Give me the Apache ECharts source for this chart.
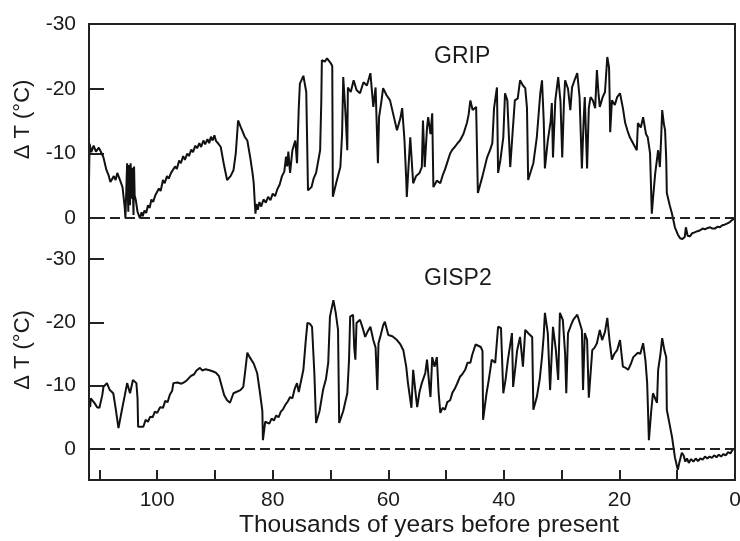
<!DOCTYPE html>
<html>
<head>
<meta charset="utf-8">
<script src="https://cdn.jsdelivr.net/npm/echarts@6/dist/echarts.min.js"></script>
<style>html,body{margin:0;padding:0;background:#fff}#c{width:740px;height:541px}</style>
</head>
<body>
<div id="c"></div>
<script>
// ---- data (kyr before present, ΔT °C) ----
var gripAge = [
111.8,111.7,111.4,111.0,110.6,110.1,109.6,109.3,108.8,108.4,
108.1,107.5,107.2,106.9,106.4,106.0,105.6,105.5,105.3,105.2,
105.0,104.9,104.7,104.6,104.4,104.3,104.1,104.0,103.9,103.7,
103.4,103.0,102.7,102.5,102.2,101.9,101.6,101.3,101.0,100.7,
100.3,100.0,99.7,99.4,99.0,98.7,98.3,98.0,97.6,97.3,
96.9,96.6,96.2,95.9,95.5,95.2,94.8,94.5,94.1,93.8,
93.4,93.1,92.7,92.4,92.0,91.7,91.3,91.0,90.7,90.4,
90.1,89.8,89.4,89.0,88.5,87.9,87.3,86.8,86.4,86.0,
85.5,84.8,84.4,83.9,83.5,83.3,83.0,82.8,82.6,82.3,
82.0,81.6,81.2,80.8,80.4,80.0,79.6,79.2,78.8,78.4,
78.0,77.7,77.5,77.3,77.0,76.6,76.1,75.8,75.5,75.3,
74.7,74.2,74.0,73.9,73.3,72.9,72.5,72.1,71.8,71.6,
71.5,71.0,70.6,70.0,69.7,69.6,69.0,68.3,68.0,67.8,
67.4,67.1,67.0,66.5,66.0,65.5,64.9,64.3,63.7,63.1,
62.6,62.2,61.9,61.8,61.6,61.2,60.9,60.3,59.7,59.0,
58.5,57.9,57.6,57.2,56.9,56.8,56.5,56.2,55.7,55.2,
54.6,54.2,54.0,53.7,53.3,53.1,52.7,52.4,52.2,51.6,
51.0,50.6,50.2,49.7,49.3,48.9,48.5,48.0,47.6,47.0,
46.4,46.1,45.8,45.4,44.8,44.6,44.5,43.7,42.9,42.4,
42.0,41.7,41.2,41.0,40.6,40.1,39.8,39.4,38.9,38.5,
38.1,37.6,37.2,36.7,36.3,36.0,35.8,34.9,34.3,33.7,
33.4,33.1,32.9,32.4,31.9,31.7,31.5,31.1,30.6,30.2,
29.9,29.6,29.4,28.9,28.5,28.2,27.7,27.3,26.9,26.6,
26.5,26.2,26.0,25.8,25.6,25.3,25.0,24.6,24.2,23.9,
23.6,23.4,22.9,22.5,22.1,21.8,21.7,21.6,21.3,20.8,
20.4,19.9,19.4,19.0,18.6,18.2,17.6,17.0,16.8,16.3,
15.9,15.4,15.1,14.7,14.4,14.1,13.8,13.3,13.0,12.8,
12.6,12.3,12.1,11.9,11.8,11.3,10.9,10.4,9.9,9.5,
9.1,8.7,8.5,8.2,7.8,7.4,7.0,6.5,6.1,5.6,
5.2,4.7,4.3,3.9,3.5,3.0,2.6,2.2,1.8,1.3,
0.9,0.4,0.0];
var gripT = [
-5.6,-11.5,-10.2,-11.2,-10.3,-10.9,-10.0,-9.4,-7.5,-6.6,
-5.6,-6.5,-5.9,-7.0,-5.8,-4.8,-1.5,0,0,-8.5,
-1.0,-8.2,-2,-8.5,-3,-7.8,-0.5,-8.0,-3.5,-2.8,
-1.0,0,-0.9,-0.3,-1.2,-0.8,-2.0,-1.6,-2.9,-2.5,
-3.6,-3.3,-4.6,-4.2,-5.9,-5.4,-6.5,-6.1,-7.0,-6.7,
-8.0,-7.6,-8.9,-8.5,-9.6,-9.0,-10.0,-9.6,-10.6,-10.2,
-11.2,-10.8,-11.6,-11.0,-12.0,-11.4,-12.2,-11.6,-12.6,-12.0,
-12.8,-11.9,-11.5,-11.0,-8.5,-5.9,-6.5,-7.4,-10,-15.1,
-14.0,-12.5,-12.0,-9.4,-7.0,-5.5,-0.7,-2.2,-1.3,-2.5,
-1.8,-2.9,-2.4,-3.3,-2.8,-3.8,-3.4,-4.5,-5.2,-6.5,
-7.2,-9.5,-8.0,-10.3,-7.0,-10.5,-12.0,-8.5,-17,-20.8,
-22.0,-19.5,-19.3,-4.3,-4.8,-6.2,-7,-9.0,-10.5,-18,
-24.4,-24.2,-24.7,-24.0,-23.5,-3.3,-5.5,-7.9,-13,-21.8,
-16,-10.5,-20.2,-19.5,-21.3,-19.8,-19.3,-21,-20.5,-22.4,
-17.2,-20.2,-20.5,-8.5,-15.6,-18,-20.1,-19,-18.2,-15.5,
-13.6,-15.5,-17.0,-12.0,-6,-3.3,-8,-12.5,-5.4,-6.5,
-7.0,-7.9,-15.1,-7.9,-14,-15.6,-13,-16.2,-4.8,-5.8,
-5.4,-6.6,-7.5,-8.9,-10.0,-10.6,-11,-11.6,-12.0,-13,
-14.7,-16,-18.2,-16.7,-17.2,-17.2,-3.9,-6.5,-9.4,-10.5,
-11.6,-17,-20.2,-7.0,-9,-12.5,-19.3,-18.2,-7.9,-13.1,
-18.2,-18.5,-21.3,-20.5,-20.1,-17,-5.9,-8.5,-12.5,-19.3,
-21.3,-15,-7.7,-12.0,-15,-17.8,-9.4,-18.2,-21.8,-18,
-9.4,-18,-21.3,-20,-16.7,-20.2,-21.5,-22.4,-18.7,-18.5,
-7.7,-15,-18.7,-18.5,-7.7,-17,-18.7,-18.2,-17.0,-22.9,
-19,-17.2,-18.7,-19.5,-24.9,-23.3,-19,-13.3,-18.2,-17.5,
-18.7,-19.3,-17,-14.7,-13.5,-12.5,-11.5,-10.5,-14.7,-14,
-15.6,-13,-12.5,-10.0,-0.7,-4,-7.0,-10.5,-7.9,-12,
-16.7,-14.5,-13.6,-9,-3.9,-2,-0.7,1.4,2.5,3.1,
3.2,2.9,1.4,2.7,2.8,2.3,2.2,2.0,1.9,1.6,
1.7,1.5,1.4,1.6,1.6,1.3,1.4,1.1,1.0,0.8,
0.6,0.2,0.0];

var gisp2Age = [
111.6,111.5,111.2,110.8,110.4,110.0,109.5,109.3,108.7,108.2,
107.6,107.2,106.7,106.1,105.6,105.2,104.7,104.2,103.6,103.4,
103.3,102.4,102.0,101.6,101.2,100.8,100.4,100.0,99.5,99.0,
98.6,98.2,97.8,97.4,97.2,96.5,95.8,95.2,94.8,94.2,
93.6,93.2,92.6,92.2,91.6,90.8,90.2,89.8,89.3,89.0,
88.4,87.9,87.4,86.8,85.6,85.1,84.8,84.4,84.0,83.3,
82.7,82.2,81.8,81.7,81.3,81.0,80.6,80.2,79.8,79.4,
79.0,78.6,78.2,77.8,77.4,77.0,76.6,76.2,75.8,75.5,
75.3,74.7,74.3,74.0,73.6,73.2,72.8,72.5,71.9,71.3,
70.8,70.4,70.1,69.5,69.1,68.7,68.5,67.8,67.1,66.8,
66.6,66.1,65.9,65.7,65.5,64.9,64.4,64.0,63.6,63.1,
62.6,62.2,61.9,61.7,61.4,60.9,60.6,60.0,59.3,58.5,
57.9,57.4,56.9,56.6,56.0,55.7,55.3,55.0,54.6,54.2,
53.6,53.3,52.9,52.7,52.4,52.0,51.6,51.3,51.0,50.6,
50.2,49.8,49.3,48.9,48.5,48.1,47.6,47.2,46.7,46.3,
45.8,45.5,45.2,44.9,44.6,44.0,43.7,43.6,43.0,42.6,
42.1,41.5,41.0,40.5,40.3,40.1,39.7,39.3,38.6,38.4,
38.0,37.7,37.2,36.7,36.3,35.7,35.1,34.9,34.3,33.8,
33.4,33.1,32.9,32.4,32.0,31.5,31.0,30.6,30.3,29.8,
29.4,29.2,28.9,28.4,28.0,27.3,26.9,26.5,26.3,26.0,
25.6,25.3,24.7,24.3,23.9,23.4,23.0,22.5,22.1,21.7,
21.3,20.9,20.4,19.9,19.4,18.9,18.5,18.0,17.6,16.8,
16.4,15.9,15.5,15.2,14.9,14.5,14.2,13.5,13.3,12.9,
12.6,12.2,11.9,11.8,11.3,10.9,10.4,9.9,9.6,9.2,
8.9,8.6,8.3,8.0,7.6,7.2,6.8,6.4,6.0,5.6,
5.2,4.8,4.4,4.0,3.6,3.2,2.8,2.4,2.0,1.6,
1.2,0.8,0.4,0.2,0.0];
var gisp2T = [
-6.6,-8.0,-7.7,-7.2,-6.6,-6.5,-8.5,-9.8,-10.4,-9.3,
-8.8,-6.5,-3.3,-6.2,-8.5,-10.4,-8.8,-10.9,-10.4,-8,
-3.5,-3.5,-4.6,-4.3,-5.1,-5.0,-5.9,-5.7,-6.6,-6.5,
-7.6,-7.4,-8.6,-9.2,-10.4,-10.5,-10.3,-10.6,-10.9,-11.5,
-11.8,-12.4,-12.8,-12.4,-12.6,-12.4,-12.2,-12.0,-11.5,-11.2,
-8.5,-7.7,-7.3,-8.8,-9.3,-9.8,-12,-15.2,-14.5,-13.5,
-12.0,-8.8,-6,-1.4,-4.3,-4.6,-4.0,-4.8,-4.5,-5.3,
-5.0,-5.9,-6.3,-7.0,-7.5,-8.2,-8.0,-9.5,-10.4,-9.0,
-9.3,-12.5,-17,-19.9,-19.8,-19.3,-12,-4.1,-6,-9.3,
-11,-13.6,-20.9,-23.5,-21.5,-18.8,-4.1,-6,-8.8,-14,
-20.9,-21.2,-16,-14.1,-19.9,-20.4,-19,-17.7,-18.5,-19.3,
-17.2,-16,-9.3,-16.7,-17.7,-19.5,-20.1,-18.0,-17.8,-17.2,
-16.5,-15.6,-13,-10.4,-6.5,-12.5,-9,-6.6,-9,-10.4,
-12,-14.1,-10,-8.2,-14.5,-13,-14.5,-9,-5.7,-6.5,
-6.2,-7.4,-7.7,-8.9,-9.5,-10.3,-11.4,-11.8,-12.5,-13.6,
-13.6,-14.8,-15.0,-16.5,-16.7,-16.1,-15.5,-4.6,-8.8,-11,
-14.1,-13.6,-19.3,-19.1,-19.1,-8.8,-11,-14.1,-18.3,-9.8,
-13,-15.6,-17.7,-13,-18.8,-18.2,-17.7,-6.2,-8.2,-11,
-14.5,-18,-21.5,-18.3,-9.3,-19.3,-15.6,-10.9,-21.5,-20.4,
-15,-8.8,-18.3,-19.5,-20.4,-21.2,-20,-18.8,-9.3,-18.3,
-17.2,-8.1,-15.6,-16,-16.7,-18.8,-17.2,-18.5,-20.7,-17,
-14.1,-15,-15.6,-17.2,-13,-12.8,-12.5,-13.5,-14.5,-15.2,
-15,-16.7,-14,-10.4,-1.4,-6,-8.8,-7.3,-12.5,-15,
-17.5,-15.5,-14.5,-6.2,-3.8,-1.9,1.3,3.3,2.0,0.6,
1.0,2.0,1.5,2.2,1.6,2.0,1.5,1.9,1.5,1.7,
1.2,1.5,1.2,1.4,1.0,1.3,0.9,1.2,0.8,1.0,
0.5,0.7,0.1,0.4,0.0];

var yTickValues = [-30, -20, -10, 0];
var xTickValues = [0, 10, 20, 30, 40, 50, 60, 70, 80, 90, 100, 110];
var xLabelValues = [0, 20, 40, 60, 80, 100];
var panelNames = ['GRIP', 'GISP2'];

function pairs(a, v) { return a.map(function (x, i) { return [x, v[i]]; }); }

var FONT = 'Liberation Sans, Arial, Helvetica, sans-serif';
var INK = '#1a1a1a';
var AX = '#222';

var chart = echarts.init(document.getElementById('c'), null, { renderer: 'canvas' });

function leftY(grid, max, shift) {
  return {
    type: 'value', gridIndex: grid, inverse: true, min: -30, max: max, position: 'left',
    name: 'Δ T (°C)', nameLocation: 'middle', nameGap: 55, nameRotate: 90,
    nameTextStyle: { fontFamily: FONT, fontSize: 22, color: INK, padding: [0, 0, 0, shift] },
    axisLine: { show: false, onZero: false },
    axisTick: { show: true, inside: true, length: 15, lineStyle: { color: AX, width: 2 }, customValues: yTickValues },
    axisLabel: { show: true, margin: 13, fontFamily: FONT, fontSize: 21, color: INK, customValues: yTickValues },
    splitLine: { show: false }
  };
}

var option = {
  animation: false,
  backgroundColor: '#fff',
  title: [
    { text: panelNames[0], left: 429, top: 40, textStyle: { fontFamily: FONT, fontSize: 23, fontWeight: 'normal', color: INK } },
    { text: panelNames[1], left: 419, top: 262, textStyle: { fontFamily: FONT, fontSize: 23, fontWeight: 'normal', color: INK } }
  ],
  grid: [
    { left: 89, right: 5, top: 24, height: 235, outerBoundsMode: 'none', containLabel: false },
    { left: 89, right: 5, top: 259, height: 221, outerBoundsMode: 'none', containLabel: false },
    { left: 89, right: 5, top: 24, height: 456, outerBoundsMode: 'none', containLabel: false,
      show: true, borderColor: AX, borderWidth: 2, backgroundColor: 'transparent', z: 5 }
  ],
  xAxis: [
    {
      type: 'value', gridIndex: 0, min: 0, max: 111.8, inverse: true, position: 'top', show: false
    },
    {
      type: 'value', gridIndex: 1, min: 0, max: 111.8, inverse: true, position: 'bottom',
      name: 'Thousands of years before present', nameLocation: 'middle', nameGap: 33,
      nameTextStyle: { fontFamily: FONT, fontSize: 24.5, color: INK, padding: [0, 0, 0, 34] },
      axisLine: { show: false, onZero: false },
      axisTick: { show: true, inside: true, length: 10, lineStyle: { color: AX, width: 2 }, customValues: xTickValues },
      axisLabel: { show: true, margin: 10, fontFamily: FONT, fontSize: 21, color: INK, customValues: xLabelValues },
      splitLine: { show: false }
    },
    { type: 'value', gridIndex: 2, min: 0, max: 1, show: false }
  ],
  yAxis: [
    leftY(0, 6.3, 44),
    leftY(1, 4.9, 39),
    { type: 'value', gridIndex: 2, min: 0, max: 1, show: false }
  ],
  series: [
    {
      name: panelNames[0], type: 'line', xAxisIndex: 0, yAxisIndex: 0, data: pairs(gripAge, gripT),
      showSymbol: false, symbol: 'none', lineStyle: { color: '#111', width: 2 },
      markLine: { silent: true, symbol: 'none', label: { show: false },
        lineStyle: { color: '#222', width: 2, type: [10, 5] }, data: [{ yAxis: 0 }] }
    },
    {
      name: panelNames[1], type: 'line', xAxisIndex: 1, yAxisIndex: 1, data: pairs(gisp2Age, gisp2T),
      showSymbol: false, symbol: 'none', lineStyle: { color: '#111', width: 2 },
      markLine: { silent: true, symbol: 'none', label: { show: false },
        lineStyle: { color: '#222', width: 2, type: [10, 5] }, data: [{ yAxis: 0 }] }
    }
  ]
};
chart.setOption(option);
</script>
</body>
</html>
